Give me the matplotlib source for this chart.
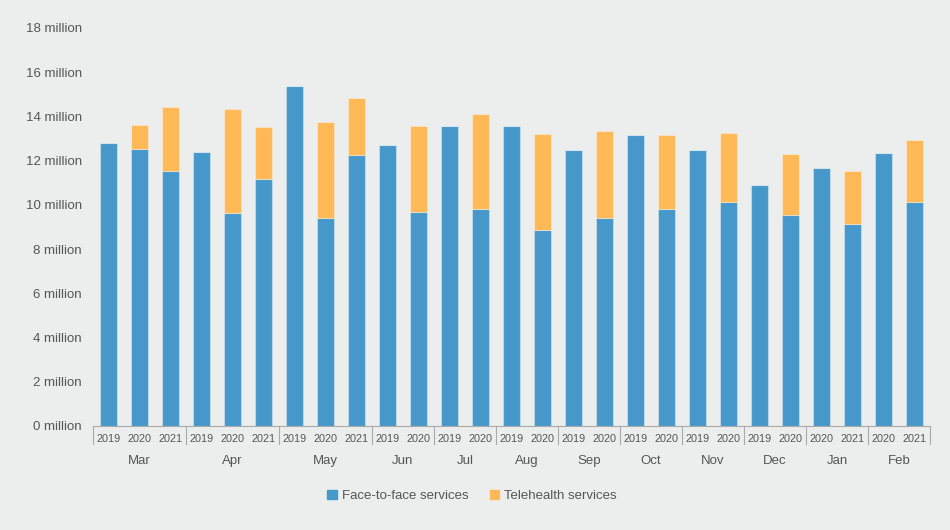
import numpy as np
import matplotlib.pyplot as plt
from matplotlib.patches import Patch
import matplotlib.transforms as mtransforms

plt.rcParams['font.family'] = ['Liberation Sans', 'DejaVu Sans']

months = ['Mar', 'Apr', 'May', 'Jun', 'Jul', 'Aug', 'Sep', 'Oct', 'Nov', 'Dec', 'Jan', 'Feb']
years = [['2019', '2020', '2021'], ['2019', '2020', '2021'], ['2019', '2020', '2021'],
         ['2019', '2020'], ['2019', '2020'], ['2019', '2020'], ['2019', '2020'],
         ['2019', '2020'], ['2019', '2020'], ['2019', '2020'], ['2020', '2021'], ['2020', '2021']]

# millions of services
face = [12.79, 12.55, 11.55, 12.38, 9.65, 11.16, 15.37, 9.39, 12.26,
        12.73, 9.67, 13.56, 9.80, 13.57, 8.86, 12.50, 9.42, 13.14, 9.83,
        12.47, 10.14, 10.92, 9.54, 11.67, 9.15, 12.35, 10.14]
total = [12.79, 13.60, 14.44, 12.38, 14.33, 13.53, 15.37, 13.76, 14.83,
         12.73, 13.56, 13.56, 14.10, 13.57, 13.20, 12.50, 13.35, 13.14, 13.18,
         12.47, 13.23, 10.92, 12.29, 11.67, 11.55, 12.35, 12.95]
tele = [t - f for t, f in zip(total, face)]

blue = '#4698CB'
orange = '#FFB957'
bg = '#ECEEED'
txt = '#555555'

fig = plt.figure(figsize=(9.5, 5.3), dpi=100, facecolor=bg)
ax = fig.add_axes([93 / 950, 104 / 530, 837 / 950, 398 / 530])
ax.set_facecolor(bg)

x = np.arange(len(face))
ax.bar(x, face, width=0.58, color=blue, edgecolor=(1, 1, 1, 0.35), linewidth=0.8)
ax.bar(x, tele, bottom=face, width=0.58, color=orange, edgecolor=(1, 1, 1, 0.35), linewidth=0.8)

ax.set_xlim(-0.5, len(face) - 0.5)
ax.set_ylim(0, 18)
ax.set_yticks(range(0, 19, 2))
ax.set_yticklabels([f'{v} million' for v in range(0, 19, 2)], color=txt, fontsize=9.5)
ax.tick_params(axis='y', length=0, pad=8)

year_labels = [y for grp in years for y in grp]
ax.set_xticks(x)
ax.set_xticklabels(year_labels, fontsize=7.8, color=txt)
ax.tick_params(axis='x', length=0, pad=6)

for s in ['top', 'right', 'left']:
    ax.spines[s].set_visible(False)
ax.spines['bottom'].set_color('#aaaaaa')

# group separators and month labels
trans = mtransforms.blended_transform_factory(ax.transData, ax.transAxes)
start = 0
bounds = [start]
for grp in years:
    start += len(grp)
    bounds.append(start)
for b in bounds:
    ax.plot([b - 0.5, b - 0.5], [0, -18 / 398], transform=trans, color='#aaaaaa',
            linewidth=0.8, clip_on=False)
for i, m in enumerate(months):
    mid = (bounds[i] + bounds[i + 1] - 1) / 2
    ax.text(mid, -35 / 398, m, transform=trans, ha='center', va='center',
            fontsize=9.5, color=txt)

handles = [Patch(color=blue, label='Face-to-face services'),
           Patch(color=orange, label='Telehealth services')]
leg = fig.legend(handles=handles, loc='center', bbox_to_anchor=(472 / 950, 34 / 530),
                 ncol=2, frameon=False, fontsize=9.5, handlelength=0.7, handleheight=0.7,
                 handletextpad=0.4, columnspacing=1.6)
for t in leg.get_texts():
    t.set_color(txt)

fig.savefig('out.png', dpi=100, facecolor=bg)
